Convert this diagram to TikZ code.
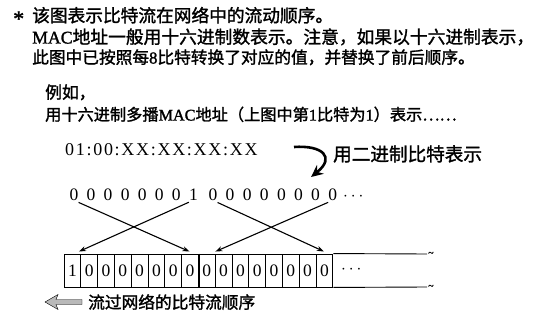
\documentclass[tikz,border=0pt]{standalone}
\usepackage{fontspec}
\setmainfont{Liberation Serif}
\newfontfamily\cjk[RawFeature={embolden=1.5}]{Noto Sans CJK SC}
\newfontfamily\lat[RawFeature={embolden=1.5}]{Liberation Serif}
\usetikzlibrary{arrows.meta}

\tikzset{
    txt/.style={anchor=base west, inner sep=0pt, font=\fontsize{#1}{19}\selectfont\cjk},
    txt/.default=17.4,
    bit/.style={anchor=base, inner sep=0pt, font=\fontsize{17.5}{19}\selectfont},
    cell/.style={draw, line width=0.9pt, minimum width=16.8pt, minimum height=33pt, inner sep=0pt, font=\fontsize{17.5}{19}\selectfont},
    swap/.style={line width=1.1pt, -{Stealth[length=7pt,width=5pt]}, shorten <=5pt, shorten >=5pt}
}

\begin{document}
\begin{tikzpicture}[x=1pt, y=-1pt]
    \useasboundingbox (0,0) rectangle (536,321);

    % notes
    \node[txt, font=\fontsize{22}{22}\selectfont\lat] (star) at (13,26) {*};
    \node[txt=17.7] (note1) at (32,22) {该图表示比特流在网络中的流动顺序。};
    \node[txt=17.75] (note2) at (32,43.5) {{\lat MAC}地址一般用十六进制数表示。注意，如果以十六进制表示，};
    \node[txt=16.7] (note3) at (32,63.5) {此图中已按照每{\lat 8}比特转换了对应的值，并替换了前后顺序。};
    \node[txt=16.8] (eg) at (45,98.5) {例如，};
    \node[txt=16.2] (eg2) at (45,120.5) {用十六进制多播{\lat MAC}地址（上图中第{\lat 1}比特为{\lat 1}）表示……};

    % hex address and the bend arrow
    \node[txt, font=\fontsize{18}{19}\selectfont\rmfamily\addfontfeatures{LetterSpace=9.5}] (hex) at (65,155) {01:00:XX:XX:XX:XX};
    \coordinate (bendA) at (294,147);
    \coordinate (bendB) at (311,177);
    \draw[line width=2.6pt, -{Stealth[length=12pt,width=11pt]}] (bendA) .. controls (322,145) and (336,157) .. (bendB);
    \node[txt=18.6] (bin) at (333,161) {用二进制比特表示};

    % bits as written
    \foreach \i in {1,...,7} {
        \pgfmathsetmacro\bx{74+17.05*(\i-1)}
        \node[bit] (b\i) at (\bx,200) {0};
    }
    \node[bit] (b8) at (193.4,200) {1};
    \foreach \i in {9,...,16} {
        \pgfmathsetmacro\bx{213+17.1*(\i-9)}
        \node[bit] (b\i) at (\bx,200) {0};
    }
    \node[bit, anchor=base west] (bdots) at (343,200) {$\cdots$};

    % bits on the wire
    \node[cell] (c1) at (72.4,270.5) {1};
    \foreach \i in {2,...,16} {
        \pgfmathsetmacro\cx{72.4+16.8*(\i-1)}
        \node[cell] (c\i) at (\cx,270.5) {0};
    }
    \draw[line width=1.8pt] (c8.north east) -- (c8.south east);
    \node[bit, anchor=west] (cdots) at (341,270) {$\cdots$};
    \coordinate (topend) at (427,254);
    \coordinate (botend) at (427,287);
    \draw[line width=0.9pt] (c16.north east) -- (topend);
    \draw[line width=0.9pt] (c16.south east) -- (botend);
    \node[right, inner sep=1pt, font=\lat] at (topend) {\textasciitilde};
    \node[right, inner sep=1pt, font=\lat] at (botend) {\textasciitilde};

    % byte order swap
    \draw[swap] (b1.south) -- ([xshift=4pt]c8.north);
    \draw[swap] (b8.south) -- ([xshift=2pt]c1.north);
    \draw[swap] (b9.south) -- ([xshift=4pt]c16.north);
    \draw[swap] (b16.south) -- ([xshift=4pt]c9.north);

    % flow direction
    \draw[thin, fill=gray!55] (45,302) -- (58,294.5) -- (56,299.5) -- (82,299.5) -- (82,304.5) -- (56,304.5) -- (58,309.5) -- cycle;
    \node[txt=16.7] (flow) at (88,308.5) {流过网络的比特流顺序};
\end{tikzpicture}
\end{document}
